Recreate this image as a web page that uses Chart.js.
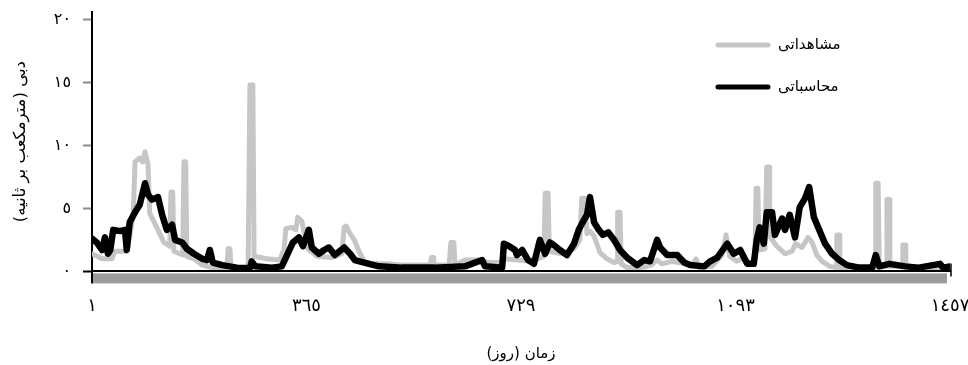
<!DOCTYPE html>
<html>
<head>
<meta charset="utf-8">
<script src="https://cdn.jsdelivr.net/npm/chart.js@4.4.0/dist/chart.umd.min.js"></script>
<style>
  html, body { margin: 0; padding: 0; background: #fff; }
</style>
</head>
<body>
<canvas id="flowChart" width="968" height="365"></canvas>
<script>
const obsDays = [1, 18, 35, 40, 60, 65, 71, 74, 82, 87, 91, 96, 99, 111, 123, 133, 135, 138, 140, 150, 155, 157, 160, 162, 174, 188, 205, 230, 232, 235, 237, 266, 269, 274, 276, 298, 320, 327, 330, 340, 347, 350, 357, 367, 383, 408, 425, 429, 432, 439, 446, 454, 463, 476, 502, 524, 575, 577, 580, 581, 607, 610, 615, 617, 634, 659, 675, 692, 700, 722, 748, 768, 770, 775, 777, 798, 819, 829, 832, 837, 841, 846, 853, 863, 875, 887, 892, 893, 897, 899, 909, 934, 950, 960, 968, 985, 1019, 1026, 1031, 1053, 1070, 1077, 1083, 1095, 1104, 1121, 1126, 1128, 1131, 1133, 1143, 1146, 1150, 1151, 1163, 1177, 1189, 1195, 1206, 1216, 1223, 1231, 1240, 1253, 1264, 1265, 1269, 1270, 1330, 1331, 1335, 1337, 1349, 1350, 1354, 1355, 1376, 1377, 1381, 1382, 1409, 1457];
const obsValues = [1.4, 1.0, 1.0, 1.6, 1.6, 2.8, 4.5, 8.7, 9.0, 8.7, 9.5, 8.5, 4.6, 3.5, 2.3, 2.0, 6.3, 6.3, 1.6, 1.4, 1.3, 8.7, 8.7, 1.2, 1.0, 0.5, 0.3, 0.3, 1.8, 1.8, 0.3, 0.3, 14.8, 14.8, 1.2, 1.0, 0.9, 1.8, 3.4, 3.5, 3.3, 4.3, 4.0, 1.8, 1.2, 1.1, 1.4, 3.5, 3.6, 3.0, 2.5, 1.6, 0.8, 0.6, 0.6, 0.5, 0.5, 1.1, 1.1, 0.5, 0.5, 2.3, 2.3, 0.5, 0.9, 0.9, 0.7, 0.7, 1.0, 0.9, 0.8, 1.2, 6.2, 6.2, 1.6, 1.4, 1.8, 2.5, 5.8, 5.8, 3.0, 3.2, 2.8, 1.5, 1.0, 0.7, 0.8, 4.7, 4.7, 0.6, 0.3, 0.3, 0.5, 0.9, 0.6, 0.8, 0.5, 1.0, 0.3, 0.4, 1.3, 2.9, 1.2, 0.8, 1.0, 0.6, 0.9, 6.6, 6.6, 1.7, 1.8, 8.3, 8.3, 2.8, 2.0, 1.4, 1.6, 2.2, 1.9, 2.7, 2.3, 1.3, 0.8, 0.4, 0.3, 2.9, 2.9, 0.3, 0.3, 7.0, 7.0, 0.4, 0.4, 5.7, 5.7, 0.4, 0.4, 2.1, 2.1, 0.4, 0.3, 0.3];

// simulated discharge (black)
const simDays = [1, 9, 18, 23, 28, 32, 37, 49, 57, 60, 65, 74, 82, 91, 96, 103, 113, 120, 128, 137, 142, 154, 162, 174, 188, 196, 201, 206, 222, 247, 269, 272, 278, 306, 323, 332, 342, 352, 359, 369, 374, 386, 395, 403, 413, 429, 439, 447, 471, 488, 527, 583, 634, 663, 668, 697, 700, 709, 719, 722, 731, 741, 751, 761, 770, 778, 787, 795, 807, 819, 827, 836, 841, 846, 853, 861, 868, 877, 887, 897, 909, 926, 938, 948, 960, 965, 977, 994, 1006, 1016, 1040, 1050, 1062, 1079, 1090, 1101, 1113, 1124, 1129, 1134, 1141, 1146, 1155, 1160, 1172, 1177, 1185, 1194, 1202, 1211, 1218, 1226, 1235, 1245, 1257, 1269, 1282, 1303, 1325, 1331, 1337, 1354, 1381, 1404, 1440, 1445, 1457];
const simValues = [2.6, 2.3, 1.7, 2.7, 1.4, 1.7, 3.3, 3.2, 3.3, 1.7, 3.9, 4.7, 5.3, 7.0, 6.1, 5.7, 5.9, 4.5, 3.3, 3.7, 2.5, 2.3, 1.8, 1.4, 1.0, 0.9, 1.7, 0.7, 0.5, 0.3, 0.25, 0.8, 0.4, 0.3, 0.4, 1.3, 2.3, 2.7, 2.0, 3.3, 1.9, 1.4, 1.7, 1.9, 1.3, 1.9, 1.4, 0.9, 0.6, 0.4, 0.3, 0.3, 0.4, 0.9, 0.4, 0.3, 2.2, 2.0, 1.7, 1.3, 1.7, 0.9, 0.6, 2.5, 1.4, 2.3, 2.0, 1.7, 1.3, 2.2, 3.3, 4.1, 4.5, 5.9, 3.9, 3.3, 2.9, 3.1, 2.5, 1.7, 1.1, 0.5, 0.9, 0.8, 2.5, 1.9, 1.3, 1.3, 0.7, 0.5, 0.4, 0.8, 1.1, 2.2, 1.4, 1.7, 0.6, 0.6, 2.5, 3.5, 2.2, 4.7, 4.7, 2.9, 4.2, 3.3, 4.5, 2.7, 5.1, 5.8, 6.7, 4.3, 3.3, 2.2, 1.4, 0.9, 0.5, 0.3, 0.3, 1.3, 0.4, 0.6, 0.4, 0.3, 0.6, 0.3, 0.4];

const seriesLabels = ['مشاهداتی', 'محاسباتی'];
const xTickValues = [1, 365, 729, 1093, 1457];
const yTickValues = [0, 5, 10, 15, 20];
const xTitle = 'زمان (روز)';
const yTitle = 'دبی (مترمکعب بر ثانیه)';

const FONT = "'DejaVu Sans', sans-serif";

const toArabicDigits = n => String(n).replace(/\d/g, d => '٠١٢٣٤٥٦٧٨٩'[d]);

// grey band under the x axis, axis end tick and the legend inside the plot
const decor = {
  id: 'decor',
  beforeDatasetsDraw(chart) {
    const { ctx, chartArea: a } = chart;
    ctx.save();
    ctx.fillStyle = '#9c9c9c';
    ctx.fillRect(a.left, a.bottom + 2, a.right - a.left - 3, 10);
    ctx.strokeStyle = '#000';
    ctx.lineWidth = 2;
    ctx.beginPath();
    ctx.moveTo(a.left, a.bottom);
    ctx.lineTo(a.left, a.bottom + 12);
    ctx.stroke();
    ctx.lineWidth = 1.5;
    ctx.beginPath();
    ctx.moveTo(a.right + 1, a.bottom - 8);
    ctx.lineTo(a.right + 1, a.bottom + 5);
    ctx.stroke();
    ctx.restore();
  },
  afterDraw(chart) {
    const { ctx, chartArea: a } = chart;
    const x0 = a.right - 232;
    ctx.save();
    chart.data.datasets.forEach((ds, i) => {
      const y = a.top + 33 + i * 42;
      ctx.strokeStyle = ds.borderColor;
      ctx.lineWidth = 5;
      ctx.lineCap = 'round';
      ctx.beginPath();
      ctx.moveTo(x0, y);
      ctx.lineTo(x0 + 50, y);
      ctx.stroke();
      ctx.fillStyle = '#000';
      ctx.font = '15px ' + FONT;
      ctx.textAlign = 'left';
      ctx.textBaseline = 'middle';
      ctx.fillText(ds.label, x0 + 60, y);
    });
    ctx.restore();
  }
};

const ctx = document.getElementById('flowChart').getContext('2d');
const flowChart = new Chart(ctx, {
  type: 'line',
  data: {
    datasets: [
      {
        label: seriesLabels[0],
        data: obsDays.map((d, i) => ({ x: d, y: obsValues[i] })),
        borderColor: '#c6c6c6',
        borderWidth: 5,
        order: 2,
      },
      {
        label: seriesLabels[1],
        data: simDays.map((d, i) => ({ x: d, y: simValues[i] })),
        borderColor: '#000000',
        borderWidth: 6.5,
        order: 1,
      },
    ],
  },
  options: {
    responsive: false,
    animation: false,
    layout: { padding: { top: 12, right: 0, left: 11, bottom: 2 } },
    elements: {
      point: { radius: 0 },
      line: { tension: 0, borderJoinStyle: 'round', borderCapStyle: 'round' },
    },
    plugins: {
      legend: { display: false },
      tooltip: { enabled: false },
    },
    scales: {
      x: {
        type: 'linear',
        min: 1,
        max: 1457,
        afterBuildTicks: axis => { axis.ticks = xTickValues.map(v => ({ value: v })); },
        afterFit: axis => { axis.paddingRight = 18; },
        ticks: {
          callback: v => toArabicDigits(v),
          color: '#000',
          font: { family: FONT, size: 18 },
          padding: 24,
          maxRotation: 0,
          autoSkip: false,
        },
        grid: { drawOnChartArea: false, drawTicks: false },
        border: { color: '#000', width: 2 },
        title: {
          display: true,
          text: xTitle,
          color: '#000',
          font: { family: FONT, size: 15 },
          padding: { top: 4, bottom: 0 },
        },
      },
      y: {
        min: 0,
        max: 20.6,
        afterBuildTicks: axis => { axis.ticks = yTickValues.map(v => ({ value: v })); },
        afterFit: axis => { axis.paddingTop = 0; axis.paddingBottom = 0; },
        ticks: {
          callback: v => toArabicDigits(v),
          color: '#000',
          font: { family: FONT, size: 16 },
          padding: 12,
        },
        grid: {
          drawOnChartArea: false,
          drawTicks: true,
          tickLength: 9,
          tickColor: c => (c.tick && c.tick.value === 0 ? '#000' : '#8c8c8c'),
          tickWidth: 2,
        },
        border: { color: '#000', width: 2 },
        title: {
          display: true,
          text: yTitle,
          color: '#000',
          font: { family: FONT, size: 16.5 },
          padding: { top: 0, bottom: 11 },
        },
      },
    },
  },
  plugins: [decor],
});
</script>
</body>
</html>
